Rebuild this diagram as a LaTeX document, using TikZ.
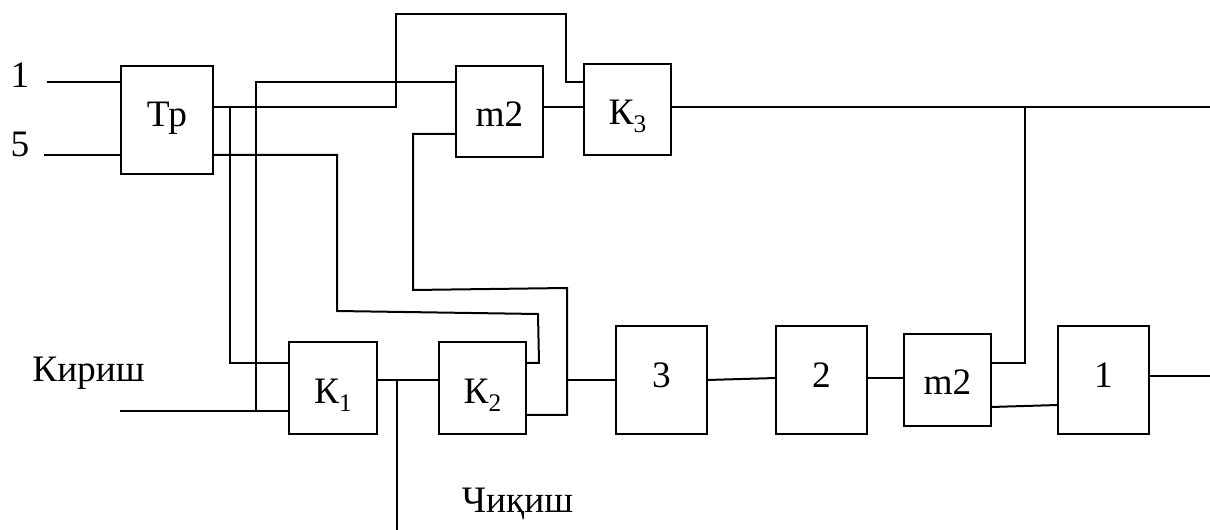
\documentclass[tikz,border=0pt]{standalone}
\usepackage{fontspec}
\setmainfont{Liberation Serif}
\newcommand{\sbs}[1]{\raisebox{-0.2em}{\fontsize{19}{19}\selectfont #1}}
\tikzset{
  blk/.style={draw=black,line width=1.5pt,inner sep=0pt,outer sep=0pt,text depth=0pt,align=center,font=\fontsize{28}{28}\selectfont},
  blkTall/.style={blk,minimum width=68.25pt,minimum height=81pt,text height=12pt},
  blkA/.style={blk,minimum width=65.25pt,minimum height=68.25pt,text height=23.25pt},
  blkB/.style={blk,minimum width=65.5pt,minimum height=69pt,text height=24pt},
  lbl/.style={anchor=base,inner sep=0pt,font=\fontsize{28}{28}\selectfont},
  wire/.style={line width=1.5pt,line join=miter,line cap=butt},
}
\begin{document}
\begin{tikzpicture}[x=0.75pt,y=-0.75pt]
\useasboundingbox (0,0) rectangle (1210,530);
% blocks
\node[blk,minimum width=69pt,minimum height=81pt,text height=10.5pt] (tr) at (167,120) {Тр};
\node[blkA] (mt) at (499.5,111.5) {m2};
\node[blkA] (k3) at (627.5,109.5) {К\sbs{3}};
\node[blkB] (k1) at (333,388) {К\sbs{1}};
\node[blkB] (k2) at (482.5,388) {К\sbs{2}};
\node[blkTall] (b3) at (661.5,380) {3};
\node[blkTall] (b2) at (821.5,380) {2};
\node[blk,minimum width=65.25pt,minimum height=69pt,text height=22.5pt] (mb) at (947.5,380) {m2};
\node[blkTall] (b1) at (1103.5,380) {1};
% labels
\node[lbl] (l1) at (20,88) {1};
\node[lbl] (l5) at (20,157) {5};
\node[lbl] (lin) at (88.5,382) {Кириш};
\node[lbl] (lout) at (517.5,512.5) {Чиқиш};
% free ends and junctions
\coordinate (i1) at (47,82);
\coordinate (i5) at (44,155);
\coordinate (ik) at (120,411);
\coordinate (t1) at (213,107);
\coordinate (t2) at (213,155);
\coordinate (j1) at (396,107);
\coordinate (j2) at (396,14);
\coordinate (j3) at (566,14);
\coordinate (j4) at (566,82);
\coordinate (v1) at (230,107);
\coordinate (v2) at (230,363);
\coordinate (h1) at (256,82);
\coordinate (h2) at (256,411);
\coordinate (p1) at (337,155);
\coordinate (p2) at (337,311);
\coordinate (p3) at (538,314);
\coordinate (p4) at (539,363);
\coordinate (q0) at (413,134);
\coordinate (q1) at (413,290);
\coordinate (q2) at (567,288);
\coordinate (q3) at (567,415);
\coordinate (q4) at (567,380);
\coordinate (d0) at (397,380);
\coordinate (d1) at (397,530);
\coordinate (e1) at (1210,107);
\coordinate (e2) at (1025,107);
\coordinate (e3) at (1025,363);
\coordinate (e4) at (1210,376);
\coordinate (s2a) at (776,378);
\coordinate (s2b) at (867,378);
\coordinate (s1a) at (991,407);
\coordinate (s1b) at (1058,405);
\coordinate (s3) at (707,380);
% connectors
\draw[wire] (i1) -- (i1 -| tr.west);
\draw[wire] (i5) -- (i5 -| tr.west);
\draw[wire] (t1) -- (j1) -- (j2) -- (j3) -- (j4) -- (j4 -| k3.west);
\draw[wire] (v1) -- (v2) -- (v2 -| k1.west);
\draw[wire] (h1 -| mt.west) -- (h1) -- (h2);
\draw[wire] (ik) -- (ik -| k1.west);
\draw[wire] (t2) -- (p1) -- (p2) -- (p3) -- (p4) -- (p4 -| k2.east);
\draw[wire] (q0 -| mt.west) -- (q0) -- (q1) -- (q2) -- (q3) -- (q3 -| k2.east);
\draw[wire] (q4) -- (q4 -| b3.west);
\draw[wire] (k1.east) -- (k1.east |- d0) -- (d0 -| k2.west);
\draw[wire] (d0) -- (d1);
\draw[wire] (mt.east |- 0,107) -- (k3.west |- 0,107);
\draw[wire] (k3.east |- 0,107) -- (e1);
\draw[wire] (e2) -- (e3) -- (e3 -| mb.east);
\draw[wire] (s3) -- (s2a);
\draw[wire] (s2b) -- (s2b -| mb.west);
\draw[wire] (s1a) -- (s1b);
\draw[wire] (e4 -| b1.east) -- (e4);
\end{tikzpicture}
\end{document}
